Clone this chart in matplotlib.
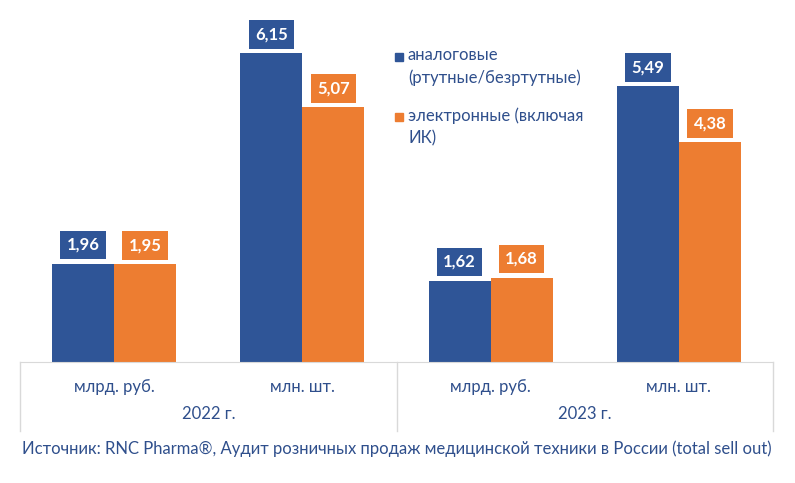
import matplotlib.pyplot as plt
import numpy as np
from matplotlib.patches import Rectangle

plt.rcParams['font.family'] = ['Lato', 'DejaVu Sans']

categories = ["млрд. руб.", "млн. шт.", "млрд. руб.", "млн. шт."]
years = ["2022 г.", "2023 г."]
analog = [1.96, 6.15, 1.62, 5.49]
electronic = [1.95, 5.07, 1.68, 4.38]
series_names = ["аналоговые\n(ртутные/безртутные)", "электронные (включая\nИК)"]
source = "Источник: RNC Pharma®, Аудит розничных продаж медицинской техники в России (total sell out)"

blue = "#2F5597"
orange = "#ED7D31"
text_col = "#2F4F8C"
grid_col = "#D9D9D9"

fig = plt.figure(figsize=(7.95, 4.83), dpi=100)
ax = fig.add_axes([20 / 795, 121 / 483, 753 / 795, 351.4 / 483])

x = np.arange(len(categories))
w = 0.33
b1 = ax.bar(x - w / 2, analog, w, color=blue)
b2 = ax.bar(x + w / 2, electronic, w, color=orange)

for bars, vals, col in [(b1, analog, blue), (b2, electronic, orange)]:
    for rect, v in zip(bars, vals):
        ax.annotate(f"{v:.2f}".replace(".", ","),
                    (rect.get_x() + rect.get_width() / 2, v),
                    xytext=(0, 13.5), textcoords="offset points",
                    ha="center", va="center", color="white",
                    fontsize=12, fontweight="bold",
                    bbox=dict(boxstyle="square,pad=0.38", fc=col, ec="none"))

ax.set_xlim(-0.5, 3.5)
ax.set_ylim(0, 7)
ax.set_yticks([])
for s in ["left", "right", "top"]:
    ax.spines[s].set_visible(False)
ax.spines["bottom"].set_color(grid_col)
ax.set_xticks(x)
ax.set_xticklabels(categories, fontsize=12, color=text_col)
ax.tick_params(axis="x", length=0, pad=12)

# group separators under the axis
trans = ax.get_xaxis_transform()
for xs in [-0.5, 1.5, 3.5]:
    ax.plot([xs, xs], [0, -0.195], transform=trans, color=grid_col,
            lw=1, clip_on=False)
for i, yr in enumerate(years):
    ax.text(2 * i + 0.5, -0.148, yr, transform=trans, ha="center",
            va="center", fontsize=12, color=text_col)

# legend
leg_y = [57, 117]
for name, col, ly in zip(series_names, [blue, orange], leg_y):
    fig.patches.append(Rectangle((395 / 795, 1 - (ly + 4) / 483), 8 / 795, 8 / 483,
                                 transform=fig.transFigure, color=col))
    fig.text(408 / 795, 1 - (ly - 10) / 483, name, ha="left", va="top",
             fontsize=12, color=text_col, linespacing=1.5)

fig.text(397 / 795, 1 - 449 / 483, source, ha="center", va="center",
         fontsize=12, color=text_col)

fig.savefig("out.png", dpi=100)
